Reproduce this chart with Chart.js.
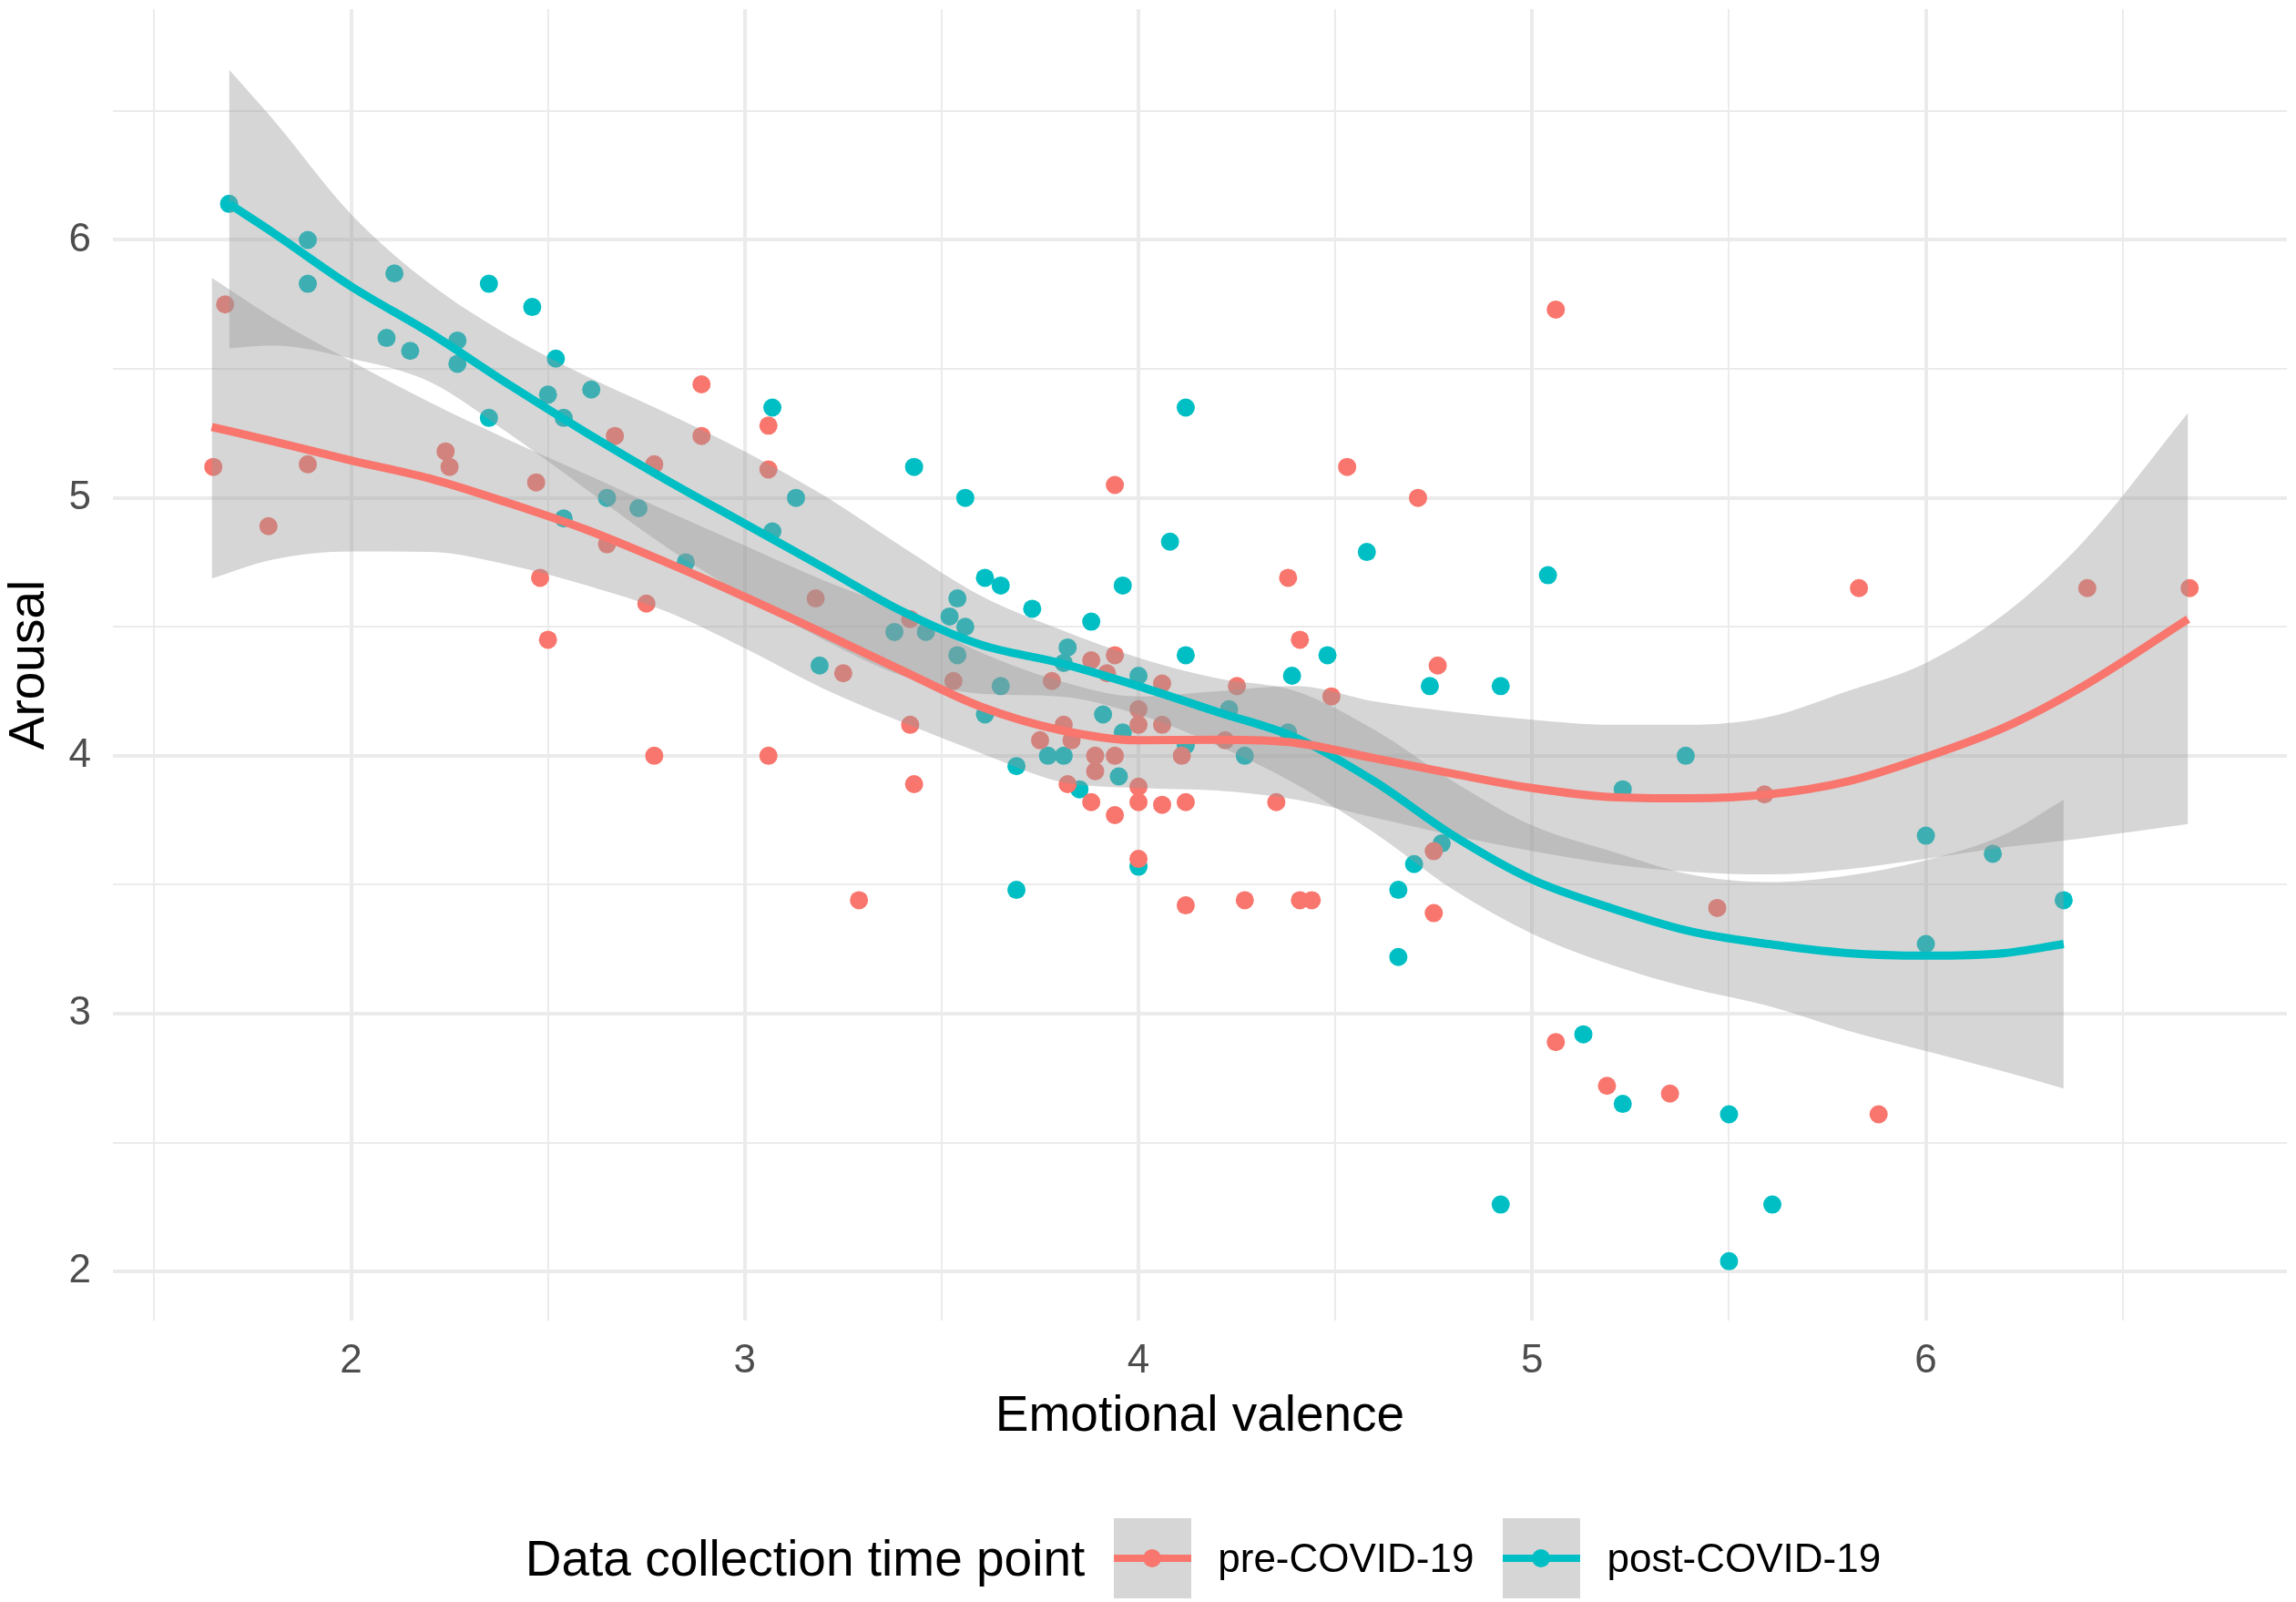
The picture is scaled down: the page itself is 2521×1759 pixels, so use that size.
<!DOCTYPE html>
<html>
<head>
<meta charset="utf-8">
<title>Arousal vs emotional valence</title>
<script src="https://cdn.jsdelivr.net/npm/chart.js@4.4.1/dist/chart.umd.min.js"></script>
<style>
  html, body { margin: 0; padding: 0; background: #fff; }
  #wrap { position: relative; width: 2521px; height: 1759px; font-family: "Liberation Sans", Arial, sans-serif; }
  #legend { position: absolute; left: 124px; width: 2394px; top: 1667px; height: 88px;
            display: flex; align-items: center; justify-content: center; color: #000; }
  .ltitle { font-size: 55px; margin-right: 32px; }
  .key { position: relative; width: 85px; height: 88px; background: #d6d6d6; margin-right: 29px; }
  .key .kl { position: absolute; left: 0; right: 0; top: 40px; height: 8px; }
  .key .kp { position: absolute; left: 32px; top: 34px; width: 20px; height: 20px; border-radius: 50%; }
  .lab { font-size: 44px; margin-right: 32px; }
  .lab:last-child { margin-right: 0; }
</style>
</head>
<body>
<div id="wrap">
  <canvas id="chart" width="2521" height="1759"></canvas>
  <div id="legend">
    <span class="ltitle">Data collection time point</span>
    <span class="key"><i class="kl" style="background:#F8766D"></i><i class="kp" style="background:#F8766D"></i></span>
    <span class="lab">pre-COVID-19</span>
    <span class="key"><i class="kl" style="background:#00BFC4"></i><i class="kp" style="background:#00BFC4"></i></span>
    <span class="lab">post-COVID-19</span>
  </div>
</div>
<script>
// raw points, pre-COVID-19
const preX = [1.65, 1.68, 1.79, 1.89, 2.24, 2.25, 2.47, 2.48, 2.50, 2.67, 2.65, 2.77, 2.75, 2.89, 2.89, 3.06, 3.06, 3.94,
  3.18, 3.25, 3.42, 3.53, 3.78, 3.88, 3.94, 3.92, 4.06, 4.25, 3.06, 3.43, 3.29, 3.42, 3.81, 3.75, 3.83, 3.89, 3.89, 3.94,
  4.00, 4.00, 4.06, 3.82, 3.88, 3.94, 4.00, 4.00, 4.06, 4.12, 4.00, 4.12, 4.27, 4.22, 4.11, 5.06, 4.53, 4.71, 4.38, 4.41,
  4.76, 4.49, 4.35, 4.41, 4.44, 4.75, 4.75, 5.06, 5.19, 5.35, 5.47, 5.59, 5.83, 6.41, 6.67, 5.88, 2.77];
const preY = [5.12, 5.75, 4.89, 5.13, 5.18, 5.12, 5.06, 4.69, 4.45, 5.24, 4.82, 5.13, 4.59, 5.44, 5.24, 5.28, 5.11, 5.05,
  4.61, 4.32, 4.53, 4.29, 4.29, 4.37, 4.39, 4.32, 4.28, 4.27, 4.00, 3.89, 3.44, 4.12, 4.12, 4.06, 4.06, 4.00, 3.94, 4.00,
  4.18, 4.12, 4.12, 3.89, 3.82, 3.77, 3.88, 3.82, 3.81, 3.82, 3.60, 3.42, 3.44, 4.06, 4.00, 5.73, 5.12, 5.00, 4.69, 4.45,
  4.35, 4.23, 3.82, 3.44, 3.44, 3.63, 3.39, 2.89, 2.72, 2.69, 3.41, 3.85, 4.65, 4.65, 4.65, 2.61, 4.00];

// raw points, post-COVID-19
const postX = [1.69, 1.89, 1.89, 2.11, 2.35, 2.46, 2.09, 2.15, 2.27, 2.27, 2.52, 2.61, 2.50, 2.54, 2.35, 2.65, 2.73, 2.54,
  2.85, 3.07, 3.13, 3.07, 3.43, 3.56, 4.12, 4.08, 3.96, 3.61, 3.65, 3.73, 3.88, 3.54, 3.52, 3.56, 3.38, 3.46, 3.19, 3.54,
  3.82, 3.81, 4.12, 4.00, 3.65, 3.61, 3.69, 3.77, 3.81, 3.91, 3.96, 3.95, 3.85, 4.00, 3.69, 4.12, 4.23, 4.27, 4.58, 5.04,
  4.48, 4.39, 4.74, 4.92, 4.38, 5.39, 5.23, 4.77, 4.70, 4.66, 4.66, 5.13, 5.23, 5.50, 4.92, 5.61, 5.50, 6.00, 6.00, 6.17, 6.35];
const postY = [6.14, 6.00, 5.83, 5.87, 5.83, 5.74, 5.62, 5.57, 5.61, 5.52, 5.54, 5.42, 5.40, 5.31, 5.31, 5.00, 4.96, 4.92,
  4.75, 5.35, 5.00, 4.87, 5.12, 5.00, 5.35, 4.83, 4.66, 4.69, 4.66, 4.57, 4.52, 4.61, 4.54, 4.50, 4.48, 4.48, 4.35, 4.39,
  4.42, 4.36, 4.39, 4.31, 4.27, 4.16, 3.96, 4.00, 4.00, 4.16, 4.09, 3.92, 3.87, 3.57, 3.48, 4.04, 4.18, 4.00, 4.79, 4.70,
  4.39, 4.31, 4.27, 4.27, 4.09, 4.00, 3.87, 3.66, 3.58, 3.48, 3.22, 2.92, 2.65, 2.61, 2.26, 2.26, 2.04, 3.69, 3.27, 3.62, 3.44];

// smoothed curve + confidence band
const preFitX = [1.646, 1.8, 2.0, 2.2, 2.4, 2.6, 2.8, 3.0, 3.2, 3.4, 3.6, 3.8, 4.0, 4.2, 4.4, 4.6, 4.8, 5.0, 5.2, 5.4, 5.6, 5.8, 6.0, 6.2, 6.4, 6.666];
const preFit   = [5.275, 5.22, 5.145, 5.075, 4.98, 4.875, 4.75, 4.616, 4.475, 4.33, 4.19, 4.10, 4.06, 4.062, 4.05, 3.99, 3.93, 3.875, 3.84, 3.835, 3.85, 3.90, 3.995, 4.11, 4.27, 4.53];
const preUpper = [5.853, 5.70, 5.53, 5.37, 5.225, 5.09, 4.95, 4.815, 4.68, 4.56, 4.40, 4.29, 4.23, 4.25, 4.27, 4.21, 4.17, 4.14, 4.12, 4.12, 4.15, 4.25, 4.36, 4.55, 4.83, 5.33];
const preLower = [4.687, 4.76, 4.792, 4.79, 4.74, 4.66, 4.56, 4.417, 4.26, 4.13, 4.01, 3.90, 3.875, 3.865, 3.83, 3.76, 3.69, 3.63, 3.58, 3.55, 3.54, 3.56, 3.60, 3.645, 3.68, 3.735];

const postFitX = [1.69, 1.8, 2.0, 2.2, 2.4, 2.6, 2.8, 3.0, 3.2, 3.4, 3.6, 3.8, 4.0, 4.2, 4.4, 4.6, 4.8, 5.0, 5.2, 5.4, 5.6, 5.8, 6.0, 6.2, 6.35];
const postFit   = [6.14, 6.03, 5.82, 5.64, 5.44, 5.25, 5.07, 4.90, 4.73, 4.56, 4.43, 4.36, 4.27, 4.17, 4.07, 3.90, 3.69, 3.52, 3.41, 3.32, 3.27, 3.235, 3.225, 3.235, 3.27];
const postUpper = [6.66, 6.47, 6.10, 5.83, 5.63, 5.47, 5.33, 5.18, 5.01, 4.81, 4.62, 4.49, 4.38, 4.30, 4.25, 4.10, 3.90, 3.73, 3.63, 3.54, 3.51, 3.535, 3.595, 3.695, 3.83];
const postLower = [5.58, 5.59, 5.54, 5.45, 5.25, 5.03, 4.81, 4.62, 4.45, 4.31, 4.24, 4.23, 4.16, 4.04, 3.89, 3.70, 3.48, 3.31, 3.19, 3.10, 3.03, 2.935, 2.855, 2.775, 2.71];

// axis ticks (major get labels, minor only grid lines)
const xMajorTicks = [2, 3, 4, 5, 6];
const xMinorTicks = [1.5, 2.5, 3.5, 4.5, 5.5, 6.5];
const yMajorTicks = [2, 3, 4, 5, 6];
const yMinorTicks = [2.5, 3.5, 4.5, 5.5, 6.5];

const RED = '#F8766D';
const CYAN = '#00BFC4';
const RIBBON = 'rgba(153,153,153,0.4)';
const GRID = '#EBEBEB';

function xy(xs, ys) {
  return xs.map((x, i) => ({ x: x, y: ys[i] }));
}
function allTicks(major, minor) {
  return major.concat(minor).sort((a, b) => a - b).map(v => ({ value: v }));
}

const fitLine = (label, xs, ys, color) => ({
  type: 'line', label: label, data: xy(xs, ys), borderColor: color, borderWidth: 9,
  pointRadius: 0, fill: false, cubicInterpolationMode: 'monotone', order: 1
});
const bandEdge = (label, xs, ys, fill) => ({
  type: 'line', label: label, data: xy(xs, ys), borderColor: 'rgba(0,0,0,0)', borderWidth: 0,
  pointRadius: 0, fill: fill, backgroundColor: RIBBON, cubicInterpolationMode: 'monotone', order: 2
});
const dots = (label, xs, ys, color) => ({
  type: 'scatter', label: label, data: xy(xs, ys), backgroundColor: color, borderWidth: 0,
  pointRadius: 10, pointHoverRadius: 10, order: 3
});

new Chart(document.getElementById('chart'), {
  type: 'scatter',
  data: {
    datasets: [
      fitLine('pre-COVID-19 fit', preFitX, preFit, RED),
      fitLine('post-COVID-19 fit', postFitX, postFit, CYAN),
      bandEdge('pre upper', preFitX, preUpper, '+1'),
      bandEdge('pre lower', preFitX, preLower, false),
      bandEdge('post upper', postFitX, postUpper, '+1'),
      bandEdge('post lower', postFitX, postLower, false),
      dots('pre-COVID-19', preX, preY, RED),
      dots('post-COVID-19', postX, postY, CYAN)
    ]
  },
  options: {
    responsive: false,
    devicePixelRatio: 1,
    animation: false,
    layout: { padding: { left: 0, right: 3, top: 10, bottom: 159 } },
    plugins: {
      legend: { display: false },
      tooltip: { enabled: false }
    },
    scales: {
      x: {
        type: 'linear', min: 1.395, max: 6.917,
        afterBuildTicks: s => { s.ticks = allTicks(xMajorTicks, xMinorTicks); },
        afterFit: s => { s.height = 150; s.paddingLeft = 0; s.paddingRight = 0; },
        border: { display: false },
        grid: {
          drawTicks: false, color: GRID,
          lineWidth: c => (c.tick && Number.isInteger(c.tick.value)) ? 4 : 2
        },
        ticks: {
          autoSkip: false, maxRotation: 0, padding: 18, color: '#4D4D4D',
          font: { family: 'Liberation Sans', size: 44 },
          callback: v => xMajorTicks.includes(v) ? String(v) : ''
        },
        title: {
          display: true, text: 'Emotional valence', color: '#000',
          font: { family: 'Liberation Sans', size: 55 },
          padding: { top: 0, bottom: 11 }
        }
      },
      y: {
        type: 'linear', min: 1.81, max: 6.895,
        afterBuildTicks: s => { s.ticks = allTicks(yMajorTicks, yMinorTicks); },
        afterFit: s => { s.width = 124; s.paddingTop = 0; s.paddingBottom = 0; },
        border: { display: false },
        grid: {
          drawTicks: false, color: GRID,
          lineWidth: c => (c.tick && Number.isInteger(c.tick.value)) ? 4 : 2
        },
        ticks: {
          autoSkip: false, padding: 24, color: '#4D4D4D',
          font: { family: 'Liberation Sans', size: 44 },
          callback: v => yMajorTicks.includes(v) ? String(v) : ''
        },
        title: {
          display: true, text: 'Arousal', color: '#000',
          font: { family: 'Liberation Sans', size: 55 },
          padding: { top: 0, bottom: 0 }
        }
      }
    }
  }
});
</script>
</body>
</html>
